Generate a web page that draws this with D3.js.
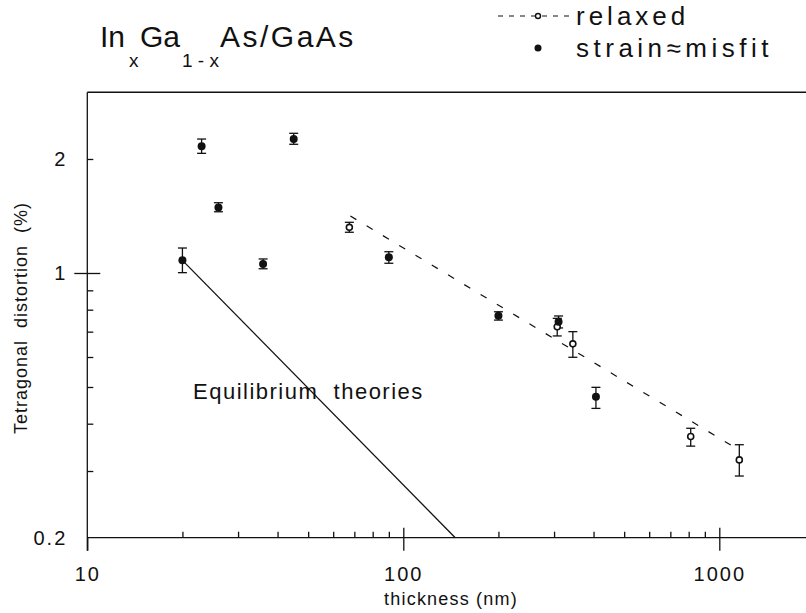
<!DOCTYPE html>
<html>
<head>
<meta charset="utf-8">
<script src="https://cdn.jsdelivr.net/npm/d3@7"></script>
<style>
  body { margin: 0; background: #fff; }
  svg { display: block; font-family: "Liberation Sans", Arial, Helvetica, sans-serif; }
</style>
</head>
<body>
<div class="chart"></div>
<script>
// values (thickness in nm, distortion in %)
const strainThickness = [20, 23, 26, 36, 45, 90, 200, 310, 407];
const strainValue = [1.08, 2.16, 1.49, 1.056, 2.26, 1.10, 0.771, 0.744, 0.471];
const strainLow = [1.002, 2.07, 1.451, 1.026, 2.187, 1.061, 0.751, 0.716, 0.439];
const strainHigh = [1.164, 2.258, 1.533, 1.089, 2.338, 1.138, 0.790, 0.770, 0.499];

const relaxedThickness = [67.5, 307, 344, 812, 1157];
const relaxedValue = [1.32, 0.721, 0.650, 0.370, 0.321];
const relaxedLow = [1.281, 0.682, 0.599, 0.349, 0.291];
const relaxedHigh = [1.361, 0.759, 0.700, 0.389, 0.352];

// dashed fit through the relaxed points
const relaxedFitThickness = [68, 1108];
const relaxedFitValue = [1.414, 0.348];

// equilibrium theory line
const equilibriumThickness = [20, 146];
const equilibriumValue = [1.08, 0.2];

const xMajor = [10, 100, 1000];
const xMinor = [20, 30, 40, 50, 60, 70, 80, 90, 200, 300, 400, 500, 600, 700, 800, 900];
const yLabelled = [0.2, 1, 2];
const yMinor = [0.3, 0.4, 0.5, 0.6, 0.7, 0.8, 0.9, 2];

const width = 806, height = 613;

const svg = d3.select(".chart")
  .append("svg")
  .attr("width", width)
  .attr("height", height);

// scales
const x = d3.scaleLog().domain([10, 1000]).range([87.3, 719.3]);
const y = d3.scaleLog().domain([0.2, 3]).range([537.7, 92.3]);

const strain = strainThickness.map((t, i) => ({ t, v: strainValue[i], lo: strainLow[i], hi: strainHigh[i] }));
const relaxed = relaxedThickness.map((t, i) => ({ t, v: relaxedValue[i], lo: relaxedLow[i], hi: relaxedHigh[i] }));

// ---- axes ----
const xg = svg.append("g").attr("transform", `translate(0,${y(0.2)})`);
xg.append("line")
  .attr("x1", x(10)).attr("x2", width)
  .attr("stroke", "#111").attr("stroke-width", 1.4);

xg.append("g")
  .call(d3.axisBottom(x).tickValues(xMinor).tickSizeInner(-6).tickSizeOuter(0).tickFormat(""))
  .call(g => g.select(".domain").remove());
xg.append("g")
  .call(d3.axisBottom(x).tickValues([100, 1000]).tickSizeInner(-10).tickSizeOuter(0).tickFormat(""))
  .call(g => g.select(".domain").remove());
xg.append("g")
  .call(d3.axisBottom(x).tickValues(xMajor).tickSizeInner(13).tickSizeOuter(0).tickPadding(16)
    .tickFormat(d3.format("d")))
  .call(g => g.select(".domain").remove())
  .call(g => g.selectAll("text")
    .attr("fill", "#111")
    .style("font-size", "20px")
    .style("letter-spacing", "2px"));
xg.selectAll("line").attr("stroke", "#111").attr("stroke-width", 1.3);

svg.append("text")
  .attr("x", 451)
  .attr("y", 605)
  .attr("text-anchor", "middle")
  .style("font-size", "18px")
  .style("letter-spacing", "1.2px")
  .attr("fill", "#111")
  .text("thickness (nm)");

const yg = svg.append("g").attr("transform", `translate(${x(10)},0)`);
yg.append("line")
  .attr("y1", y(3)).attr("y2", y(0.2) + 13)
  .attr("stroke", "#111").attr("stroke-width", 1.4);
yg.append("g")
  .call(d3.axisLeft(y).tickValues(yMinor).tickSizeInner(-6).tickSizeOuter(0).tickFormat(""))
  .call(g => g.select(".domain").remove());
yg.append("g")
  .call(d3.axisLeft(y).tickValues([1]).tickSizeInner(13).tickSizeOuter(0).tickFormat(""))
  .call(g => g.select(".domain").remove());
yg.append("g")
  .call(d3.axisLeft(y).tickValues([1]).tickSizeInner(-13).tickSizeOuter(0).tickFormat(""))
  .call(g => g.select(".domain").remove());
yg.append("g")
  .call(d3.axisLeft(y).tickValues(yLabelled).tickSize(0).tickPadding(20)
    .tickFormat(d => d === 0.2 ? "0.2" : d3.format("d")(d)))
  .call(g => g.select(".domain").remove())
  .call(g => g.selectAll("text")
    .attr("fill", "#111")
    .style("font-size", "20px")
    .style("letter-spacing", "2px"));
yg.selectAll("line").attr("stroke", "#111").attr("stroke-width", 1.3);

// top frame line
svg.append("line")
  .attr("x1", x(10)).attr("x2", width)
  .attr("y1", y(3)).attr("y2", y(3))
  .attr("stroke", "#111").attr("stroke-width", 1.4);

svg.append("text")
  .attr("transform", `translate(27,${(y(3) + y(0.2)) / 2 + 3}) rotate(-90)`)
  .attr("text-anchor", "middle")
  .attr("fill", "#111")
  .style("font-size", "18px")
  .style("letter-spacing", "1px")
  .style("white-space", "pre")
  .text("Tetragonal  distortion  (%)");

// ---- lines ----
const line = d3.line().x(d => x(d[0])).y(d => y(d[1]));

svg.append("path")
  .datum(equilibriumThickness.map((t, i) => [t, equilibriumValue[i]]))
  .attr("d", line)
  .attr("fill", "none")
  .attr("stroke", "#111")
  .attr("stroke-width", 1.3);

svg.append("path")
  .datum(relaxedFitThickness.map((t, i) => [t, relaxedFitValue[i]]))
  .attr("d", line)
  .attr("fill", "none")
  .attr("stroke", "#111")
  .attr("stroke-width", 1.2)
  .attr("stroke-dasharray", "7,12");

svg.append("text")
  .attr("x", 193)
  .attr("y", 399)
  .attr("fill", "#111")
  .style("font-size", "22px")
  .style("letter-spacing", "1.5px")
  .style("white-space", "pre")
  .text("Equilibrium  theories");

// ---- error bars ----
function errorBars(data) {
  const g = svg.append("g").attr("stroke", "#111").attr("stroke-width", 1.3);
  g.selectAll(".stem").data(data).enter().append("line")
    .attr("x1", d => x(d.t)).attr("x2", d => x(d.t))
    .attr("y1", d => y(d.lo)).attr("y2", d => y(d.hi));
  g.selectAll(".capHi").data(data).enter().append("line")
    .attr("x1", d => x(d.t) - 4.5).attr("x2", d => x(d.t) + 4.5)
    .attr("y1", d => y(d.hi)).attr("y2", d => y(d.hi));
  g.selectAll(".capLo").data(data).enter().append("line")
    .attr("x1", d => x(d.t) - 4.5).attr("x2", d => x(d.t) + 4.5)
    .attr("y1", d => y(d.lo)).attr("y2", d => y(d.lo));
}
errorBars(relaxed);
errorBars(strain);

svg.selectAll(".relaxed").data(relaxed).enter().append("circle")
  .attr("class", "relaxed")
  .attr("cx", d => x(d.t)).attr("cy", d => y(d.v))
  .attr("r", 3)
  .attr("fill", "#fff")
  .attr("stroke", "#111")
  .attr("stroke-width", 1.6);

svg.selectAll(".strain").data(strain).enter().append("circle")
  .attr("class", "strain")
  .attr("cx", d => x(d.t)).attr("cy", d => y(d.v))
  .attr("r", 4)
  .attr("fill", "#111");

// ---- title ----
const title = svg.append("text").attr("fill", "#111").style("font-size", "30px");
title.append("tspan").attr("x", 100).attr("y", 47).text("In");
title.append("tspan").attr("x", 129).attr("y", 67).style("font-size", "19px").text("x");
title.append("tspan").attr("x", 140).attr("y", 47).text("Ga");
title.append("tspan").attr("x", 182).attr("y", 67).style("font-size", "19px").style("white-space", "pre").text("1 - x");
title.append("tspan").attr("x", 220).attr("y", 47).style("letter-spacing", "2.5px").text("As/GaAs");

// ---- legend ----
const legend = svg.append("g");
legend.append("line")
  .attr("x1", 498).attr("x2", 572)
  .attr("y1", 16).attr("y2", 16)
  .attr("stroke", "#111").attr("stroke-width", 1.2)
  .attr("stroke-dasharray", "5,6");
legend.append("circle")
  .attr("cx", 538).attr("cy", 16).attr("r", 2.5)
  .attr("fill", "#fff").attr("stroke", "#111").attr("stroke-width", 1.4);
legend.append("text")
  .attr("x", 576).attr("y", 25)
  .attr("fill", "#111")
  .style("font-size", "26px")
  .style("letter-spacing", "4px")
  .text("relaxed");
legend.append("circle")
  .attr("cx", 538).attr("cy", 48).attr("r", 3.5)
  .attr("fill", "#111");
legend.append("text")
  .attr("x", 576).attr("y", 57)
  .attr("fill", "#111")
  .style("font-size", "26px")
  .style("letter-spacing", "4.5px")
  .text("strain\u2248misfit");
</script>
</body>
</html>
